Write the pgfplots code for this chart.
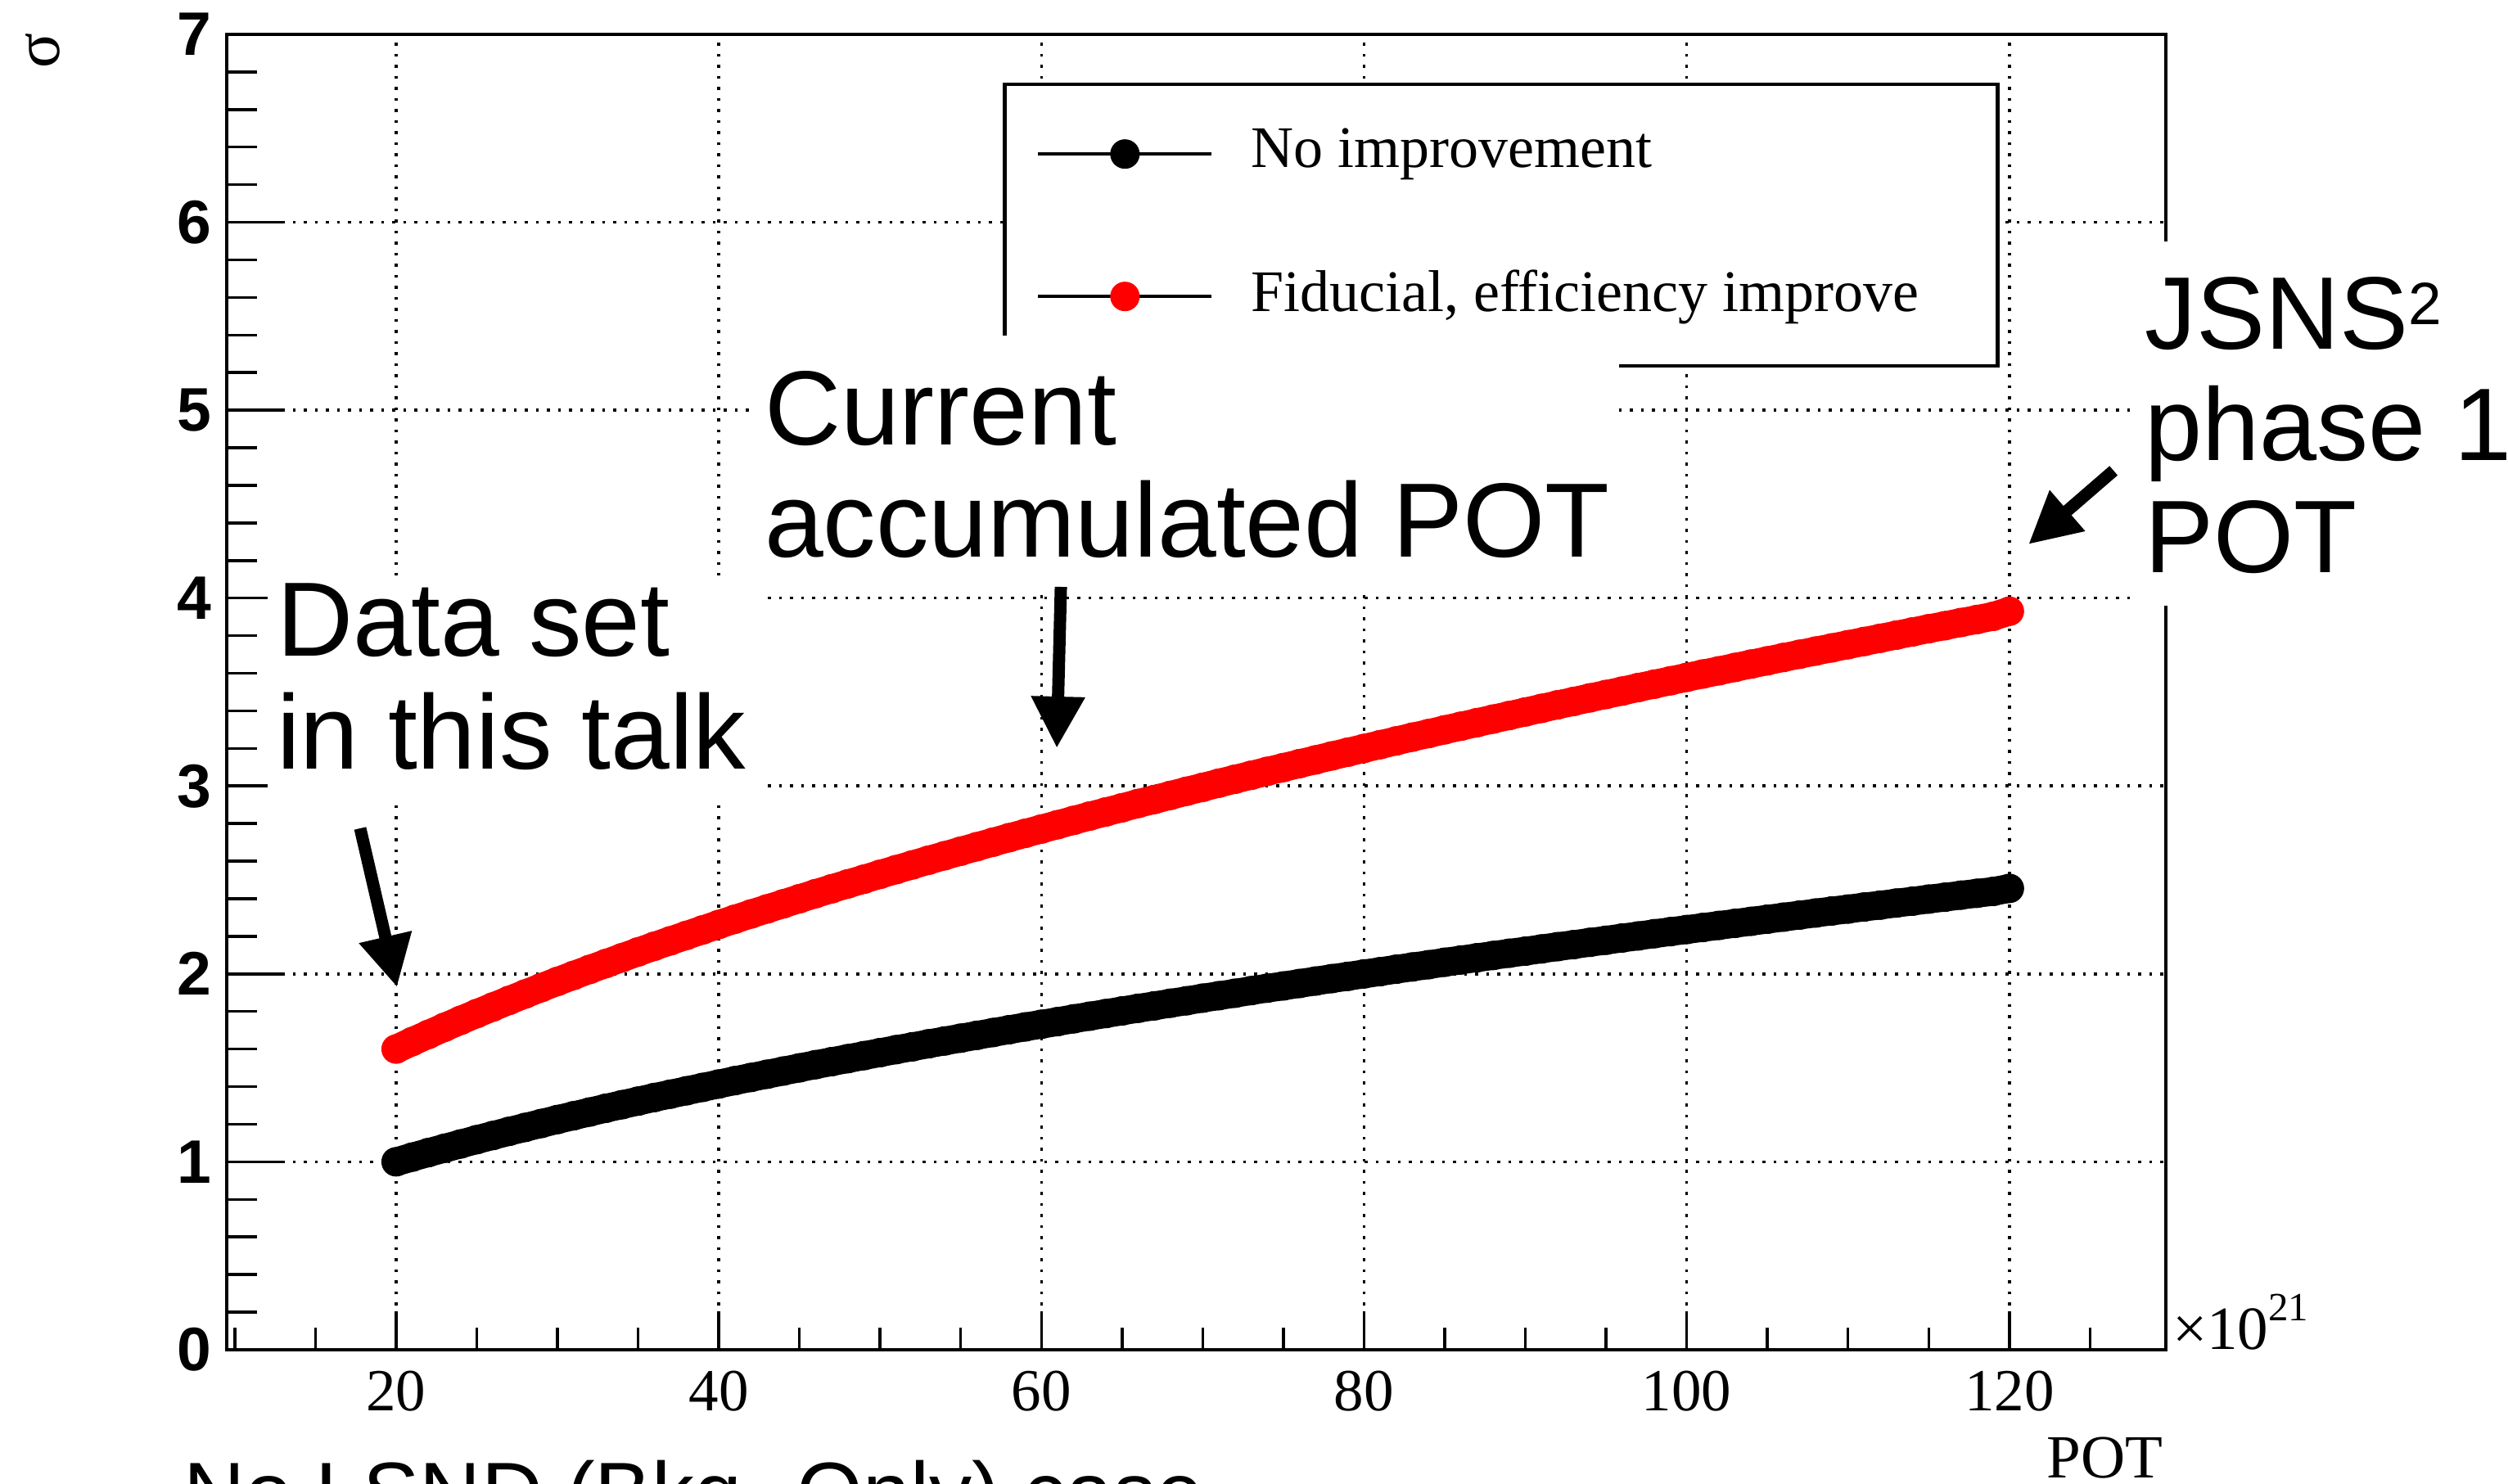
\documentclass[border=0pt]{standalone}
\usepackage{pgfplots}
\pgfplotsset{compat=1.18}
\usepackage{fontspec}
\setmainfont{Liberation Serif}
\newfontfamily\hv{Liberation Sans}
\usetikzlibrary{arrows.meta}

\pgfplotsset{
  legimg/.style={
    legend image code/.code={
      \path[draw=none, fill=none] (-4.1pt,-8.5pt) rectangle (26pt,8.5pt);
      \draw[black, line width=0.4pt] (0pt,0pt) -- (21.2pt,0pt);
      \draw[##1, line width=0pt] plot[only marks] coordinates {(10.6pt,0pt)};
    }
  },
  band/.style={line width=3.5pt, line join=round, mark=*, mark size=1.75pt,
    mark options={line width=0.1pt}, legimg}
}

\begin{document}
\begin{tikzpicture}
\begin{axis}[
    at={(27.7pt,16.4pt)}, anchor=south west,
    scale only axis, width=236.9pt, height=160.7pt,
    xmin=9.5, xmax=129.7, ymin=0, ymax=7,
    axis line style={line width=0.4pt},
    tick align=inside, tick pos=left,
    xtick={20,40,...,120}, xticklabels={20,40,60,80,100,120},
    minor xtick={10,15,...,125},
    ytick={0,...,7}, yticklabels={0,1,2,3,4,5,6,7},
    minor ytick={0.2,0.4,...,6.8},
    major tick length=6.8pt, minor tick length=3.7pt,
    xtick style={/pgfplots/major tick length=4.7pt, /pgfplots/minor tick length=2.7pt},
    tick style={line width=0.35pt, black},
    grid=major,
    major grid style={line width=0.35pt, dash pattern=on 0.35pt off 1.0pt, black},
    xticklabel style={font=\fontsize{7.3}{8}\selectfont, inner sep=0pt, yshift=-2.4pt},
    yticklabel style={font=\hv\bfseries\fontsize{7.5}{8}\selectfont, inner sep=0pt, xshift=-1.7pt},
    legend cell align=left,
    legend style={at={(0.4002,0.9633)}, anchor=north west, draw=black, line width=0.45pt,
        inner sep=0pt, row sep=0.4pt, column sep=0pt,
        nodes={inner sep=0pt}, font=\fontsize{7.2}{8}\selectfont},
]
% no improvement
\addplot[black, band] coordinates {
(20,1.000)(21,1.025)(22,1.049)(23,1.072)(24,1.095)(25,1.118)(26,1.140)(27,1.162)(28,1.183)(29,1.204)
(30,1.225)(31,1.245)(32,1.265)(33,1.285)(34,1.304)(35,1.323)(36,1.342)(37,1.360)(38,1.378)(39,1.396)
(40,1.414)(41,1.432)(42,1.449)(43,1.466)(44,1.483)(45,1.500)(46,1.517)(47,1.533)(48,1.549)(49,1.565)
(50,1.581)(51,1.597)(52,1.612)(53,1.628)(54,1.643)(55,1.658)(56,1.673)(57,1.688)(58,1.703)(59,1.718)
(60,1.732)(61,1.746)(62,1.761)(63,1.775)(64,1.789)(65,1.803)(66,1.817)(67,1.830)(68,1.844)(69,1.857)
(70,1.871)(71,1.884)(72,1.897)(73,1.911)(74,1.924)(75,1.936)(76,1.949)(77,1.962)(78,1.975)(79,1.987)
(80,2.000)(81,2.012)(82,2.025)(83,2.037)(84,2.049)(85,2.062)(86,2.074)(87,2.086)(88,2.098)(89,2.110)
(90,2.121)(91,2.133)(92,2.145)(93,2.156)(94,2.168)(95,2.179)(96,2.191)(97,2.202)(98,2.214)(99,2.225)
(100,2.236)(101,2.247)(102,2.258)(103,2.269)(104,2.280)(105,2.291)(106,2.302)(107,2.313)(108,2.324)(109,2.335)
(110,2.345)(111,2.356)(112,2.366)(113,2.377)(114,2.387)(115,2.398)(116,2.408)(117,2.419)(118,2.429)(119,2.439)
(120,2.455)
};
\addlegendentry{\makebox[91.2pt][l]{No improvement}}
% fiducial, efficiency improve
\addplot[red, band] coordinates {
(20,1.600)(21,1.640)(22,1.678)(23,1.716)(24,1.753)(25,1.789)(26,1.824)(27,1.859)(28,1.893)(29,1.927)
(30,1.960)(31,1.992)(32,2.024)(33,2.055)(34,2.086)(35,2.117)(36,2.147)(37,2.176)(38,2.205)(39,2.234)
(40,2.263)(41,2.291)(42,2.319)(43,2.346)(44,2.373)(45,2.400)(46,2.427)(47,2.453)(48,2.479)(49,2.504)
(50,2.530)(51,2.555)(52,2.580)(53,2.605)(54,2.629)(55,2.653)(56,2.677)(57,2.701)(58,2.725)(59,2.748)
(60,2.771)(61,2.794)(62,2.817)(63,2.840)(64,2.862)(65,2.884)(66,2.907)(67,2.928)(68,2.950)(69,2.972)
(70,2.993)(71,3.015)(72,3.036)(73,3.057)(74,3.078)(75,3.098)(76,3.119)(77,3.139)(78,3.160)(79,3.180)
(80,3.200)(81,3.220)(82,3.240)(83,3.260)(84,3.279)(85,3.299)(86,3.318)(87,3.337)(88,3.356)(89,3.375)
(90,3.394)(91,3.413)(92,3.432)(93,3.450)(94,3.469)(95,3.487)(96,3.505)(97,3.524)(98,3.542)(99,3.560)
(100,3.578)(101,3.596)(102,3.613)(103,3.631)(104,3.649)(105,3.666)(106,3.684)(107,3.701)(108,3.718)(109,3.735)
(110,3.752)(111,3.769)(112,3.786)(113,3.803)(114,3.820)(115,3.837)(116,3.853)(117,3.870)(118,3.886)(119,3.903)
(120,3.930)
};
\addlegendentry{\makebox[91.2pt][l]{Fiducial, efficiency improve}}
\end{axis}

% annotations, in pixel units of the reference (y down)
\begin{scope}[shift={(0pt,181.3pt)}, x=0.1pt, y=-0.1pt]
  \fill[white] (327,703) rectangle (935,980);
  \fill[white] (925,410) rectangle (1978,722);
  \fill[white] (2605,295) rectangle (3064,740);
  \begin{scope}[every node/.style={font=\hv\fontsize{12.9}{13.6}\selectfont, inner sep=0pt, anchor=base west}]
    \node at (336,802) {Data set};
    \node at (336,939) {in this talk};
    \node at (932,544) {Current};
    \node at (932,681) {accumulated POT};
  \end{scope}
  \begin{scope}[every node/.style={font=\hv\fontsize{12.6}{13.6}\selectfont, inner sep=0pt, anchor=base west}]
    \node at (2618,427) {JSNS\raisebox{3pt}{\fontsize{7.3}{8}\selectfont 2}};
    \node at (2618,563) {phase 1};
    \node at (2618,700) {POT};
  \end{scope}
  \node[font=\hv\fontsize{10.4}{11}\selectfont, inner sep=0pt, anchor=base west] at (222,1859) {No LSND (Bkg. Only) case};
  \draw[line width=1.5pt, -{Triangle[length=6.3pt,width=6.2pt]}] (440,1012) -- (485,1206);
  \draw[line width=1.5pt, -{Triangle[length=6.3pt,width=6.2pt]}] (1296,717) -- (1291,914);
  \draw[line width=1.5pt, -{Triangle[length=6.3pt,width=6.2pt]}] (2582,575) -- (2478,665);
  \node[rotate=90, font=\fontsize{8}{9}\selectfont, inner sep=0pt] at (52,62) {σ};
  \node[anchor=base east, inner sep=0pt, font=\fontsize{7.5}{8}\selectfont] at (2644,1805) {POT};
  \node[anchor=base west, inner sep=0pt, font=\fontsize{7.5}{8}\selectfont] at (2652,1648) {×10\raisebox{3.5pt}{\fontsize{4.9}{5}\selectfont 21}};
\end{scope}
\pgfresetboundingbox
\path[use as bounding box] (0,0) rectangle (306.4pt,181.3pt);
\end{tikzpicture}
\end{document}
